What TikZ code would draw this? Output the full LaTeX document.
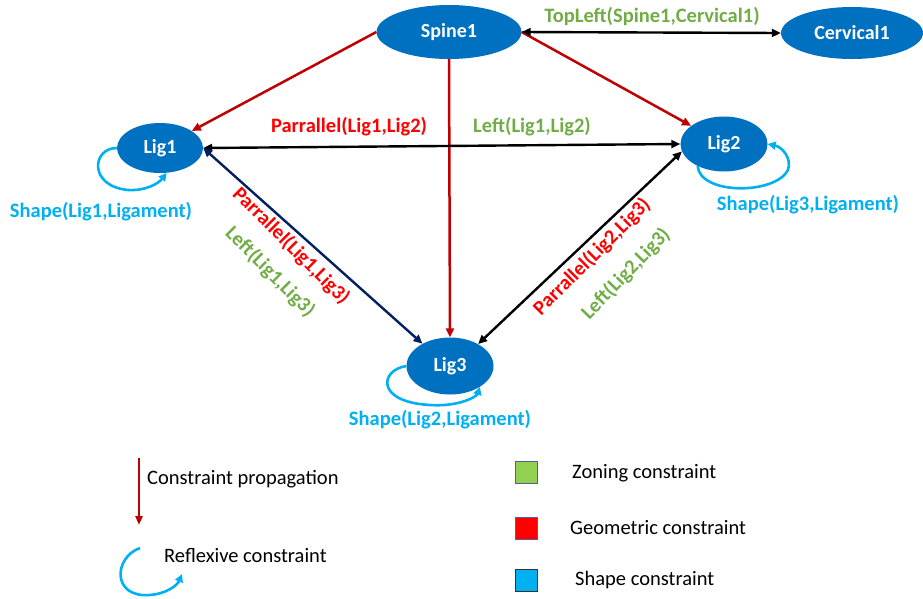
\documentclass[tikz,border=0pt]{standalone}
\usepackage{fontspec}
\setmainfont{Carlito}
\usetikzlibrary{shapes.geometric,arrows.meta}
\definecolor{nodeblue}{HTML}{0070C0}
\definecolor{darkred}{HTML}{C00000}
\definecolor{lblred}{HTML}{FF0000}
\definecolor{lblgreen}{HTML}{70AD47}
\definecolor{lblcyan}{HTML}{00B0F0}
\definecolor{navy}{HTML}{002060}
\definecolor{boxgreen}{HTML}{92D050}
\tikzset{
  ent/.style={ellipse, fill=nodeblue, text=white, inner sep=0pt, font=\fontsize{20}{24}\selectfont\bfseries},
  tip/.style={-{Triangle[length=9pt,width=8pt]}},
  bitip/.style={{Triangle[length=9pt,width=8pt]}-{Triangle[length=9pt,width=8pt]}},
  prop/.style={tip, draw=darkred, line width=2.5pt},
  rel/.style={bitip, draw=black, line width=2.4pt},
  loopc/.style={-{Triangle[length=8pt,width=8pt]}, draw=lblcyan, line width=2.6pt},
  lbl/.style={font=\fontsize{20.5}{24}\selectfont\bfseries, inner sep=0pt},
  geo/.style={lbl, text=lblred},
  zon/.style={lbl, text=lblgreen},
  shp/.style={lbl, text=lblcyan},
  legtxt/.style={font=\fontsize{20.5}{24}\selectfont, anchor=west, inner sep=0pt},
  legbox/.style={draw=gray!70!blue, line width=0.8pt, minimum size=22pt, inner sep=0pt}
}
\begin{document}
\begin{tikzpicture}[x=1pt,y=-1pt]
\useasboundingbox (0,0) rectangle (923,598);
% entities
\node[ent, minimum width=145pt, minimum height=54pt] (spine) at (449,32) {Spine1};
\node[ent, minimum width=142pt, minimum height=52pt] (cerv) at (852,33) {Cervical1};
\node[ent, minimum width=86pt, minimum height=50pt] (lig1) at (160,148) {Lig1};
\node[ent, minimum width=87pt, minimum height=55pt] (lig2) at (724,144) {Lig2};
\node[ent, minimum width=87pt, minimum height=57pt] (lig3) at (450,366) {Lig3};
% propagation
\draw[prop] (spine.west) -- (lig1);
\draw[prop] (spine.east) -- (lig2);
\draw[prop] (spine.south) -- (lig3.north);
% relations
\draw[rel] (spine.east) -- (cerv.west);
\draw[rel] (lig1.east) -- (lig2.west);
\draw[bitip, draw=navy, line width=2.4pt] (lig1.east) -- (lig3.141);
\draw[rel] (lig2.190) -- (lig3.38);
% loops
\draw[loopc] (lig1.west) .. controls (92,148) and (88,186) .. (128,190) .. controls (145,191) and (158,184) .. (lig1.-75);
\draw[loopc] (lig2.-140) .. controls (700,195) and (775,195) .. (788,170) .. controls (792,158) and (782,147) .. (lig2.east);
\draw[loopc] (lig3.west) .. controls (380,370) and (375,402) .. (430,405) .. controls (460,407) and (477,396) .. (lig3.-35);
% labels
\node[zon] (l1) at (652,16) {TopLeft(Spine1,Cervical1)};
\node[geo] (l2) at (349,127) {Parrallel(Lig1,Lig2)};
\node[zon] (l3) at (532,127) {Left(Lig1,Lig2)};
\node[geo, rotate=-45] (l4) at (291,246) {Parrallel(Lig1,Lig3)};
\node[zon, rotate=-45] (l5) at (270,272) {Left(Lig1,Lig3)};
\node[geo, rotate=45] (l6) at (592,257) {Parrallel(Lig2,Lig3)};
\node[zon, rotate=46] (l7) at (626,274) {Left(Lig2,Lig3)};
\node[shp] (l8) at (101,212) {Shape(Lig1,Ligament)};
\node[shp] (l9) at (808,205) {Shape(Lig3,Ligament)};
\node[shp] (l10) at (440,420) {Shape(Lig2,Ligament)};
% legend
\coordinate (la1) at (139,458);
\coordinate (la2) at (139,525);
\draw[-{Triangle[length=9pt,width=7pt]}, draw=darkred, line width=2.2pt] (la1) -- (la2);
\node[legtxt] (t1) at (147,479) {Constraint propagation};
\coordinate (lb1) at (140,548);
\coordinate (lb2) at (182,574);
\draw[loopc] (lb1) .. controls (114,557) and (111,598) .. (150,595) .. controls (165,594) and (177,586) .. (lb2);
\node[legtxt] (t2) at (164,556) {Reflexive constraint};
\node[legbox, fill=boxgreen] (b1) at (526,472) {};
\node[legbox, fill=lblred] (b2) at (526,528) {};
\node[legbox, fill=lblcyan, draw=black!80] (b3) at (526,580) {};
\node[legtxt] (t3) at (572,473) {Zoning constraint};
\node[legtxt] (t4) at (570,528) {Geometric constraint};
\node[legtxt] (t5) at (575,580) {Shape constraint};
\end{tikzpicture}
\end{document}
